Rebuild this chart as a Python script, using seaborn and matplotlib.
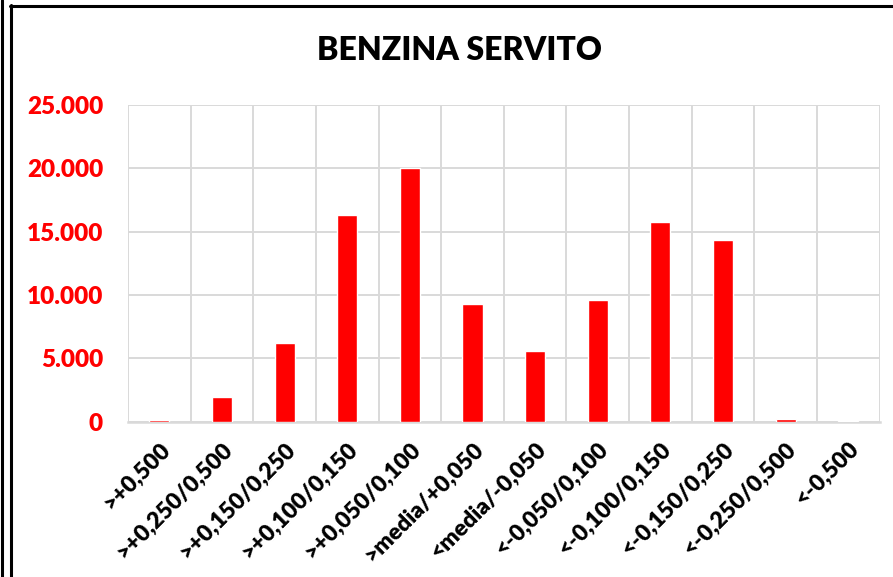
import matplotlib
matplotlib.use("Agg")
import matplotlib.pyplot as plt
import seaborn as sns
import pandas as pd
from matplotlib.lines import Line2D
from matplotlib.ticker import FixedLocator, FuncFormatter

# ---------- data ----------
categories = [">+0,500", ">+0,250/0,500", ">+0,150/0,250", ">+0,100/0,150",
              ">+0,050/0,100", ">media/+0,050", "<media/-0,050", "<-0,050/0,100",
              "<-0,100/0,150", "<-0,150/0,250", "<-0,250/0,500", "<-0,500"]
values = [130, 1940, 6190, 16280, 20030, 9320, 5570, 9640, 15780, 14310, 190, 60]
y_ticks = [0, 5000, 10000, 15000, 20000, 25000]
title = "BENZINA SERVITO"
# --------------------------

df = pd.DataFrame({"cat": categories, "val": values})

W, H, dpi = 893, 577, 100
sns.set_style("white")
plt.rcParams["font.family"] = ["Lato", "DejaVu Sans"]

fig = plt.figure(figsize=(W / dpi, H / dpi), dpi=dpi)
ax = fig.add_axes([128 / W, 1 - 421.7 / H, (879.6 - 128) / W, (421.7 - 105) / H])

sns.barplot(data=df, x="cat", y="val", color="#ff0000", width=0.32,
            saturation=1, ax=ax, zorder=3)

ax.set_xlim(-0.5, len(categories) - 0.5)
ax.set_ylim(0, 25000)
ax.set_yticks(y_ticks)
ax.yaxis.set_major_formatter(FuncFormatter(lambda v, p: f"{int(v):,}".replace(",", ".")))

# vertical grid at category boundaries
ax.xaxis.set_minor_locator(FixedLocator([i - 0.5 for i in range(len(categories) + 1)]))
ax.grid(axis="y", which="major", color="#d9d9d9", linewidth=1.4, zorder=0)
ax.grid(axis="x", which="minor", color="#d9d9d9", linewidth=1.4, zorder=0)
ax.grid(axis="x", which="major", visible=False)

for s in ["top", "right", "left"]:
    ax.spines[s].set_visible(False)
ax.spines["bottom"].set_color("#d9d9d9")
ax.spines["bottom"].set_linewidth(1.8)

ax.tick_params(axis="both", which="both", length=0)
ax.tick_params(axis="y", pad=18)
ax.set_xlabel("")
ax.set_ylabel("")

for lab in ax.get_yticklabels():
    lab.set_color("#ff0000")
    lab.set_fontweight("heavy")
    lab.set_fontsize(17.5)

ax.set_xticks(range(len(categories)))
ax.set_xticklabels(categories, rotation=45, ha="right", va="top",
                   rotation_mode="anchor", fontsize=16.5, fontweight="heavy",
                   color="black")
ax.tick_params(axis="x", pad=12)

fig.text(459 / W, 1 - 50 / H, title, ha="center", va="center",
         fontsize=23, fontweight="heavy", color="black")

# chart frame lines
fig.add_artist(Line2D([1.5 / W, 1.5 / W], [0, 1], color="black", lw=2.2,
                      transform=fig.transFigure))
fig.add_artist(Line2D([10.7 / W, 10.7 / W], [0, 1 - 5 / H], color="black", lw=2.2,
                      transform=fig.transFigure))
fig.add_artist(Line2D([9.6 / W, 1], [1 - 6.2 / H, 1 - 6.2 / H], color="black", lw=2.2,
                      transform=fig.transFigure))

fig.savefig("out.png", dpi=dpi)
